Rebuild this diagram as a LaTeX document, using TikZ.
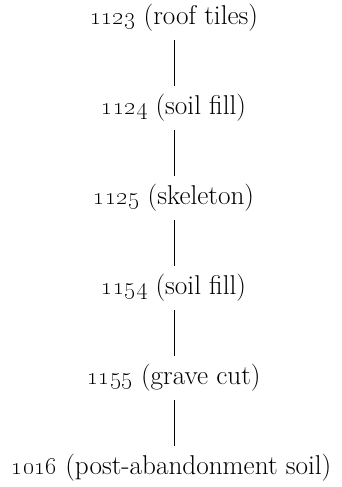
\documentclass[tikz,border=0pt]{standalone}
\tikzset{
  unit/.style={font=\fontsize{27.2}{31}\selectfont, inner xsep=0pt, inner ysep=8.5pt, anchor=center},
  link/.style={draw=black, line width=0.8pt}
}
\begin{document}
\begin{tikzpicture}[x=1pt,y=1pt]
\useasboundingbox (0,0) rectangle (341,487);
\node[unit] (a) at (174,469) {\oldstylenums{1123} (roof tiles)};
\node[unit] (b) at (174,379) {\oldstylenums{1124} (soil fill)};
\node[unit] (c) at (174,289) {\oldstylenums{1125} (skeleton)};
\node[unit] (d) at (174,199) {\oldstylenums{1154} (soil fill)};
\node[unit] (e) at (174,109) {\oldstylenums{1155} (grave cut)};
\node[unit] (f) at (171.5,19) {\oldstylenums{1016} (post-abandonment soil)};
\draw[link] (a.south) -- (a.south |- b.north);
\draw[link] (b.south) -- (b.south |- c.north);
\draw[link] (c.south) -- (c.south |- d.north);
\draw[link] (d.south) -- (d.south |- e.north);
\draw[link] (e.south) -- (e.south |- f.north);
\end{tikzpicture}
\end{document}
